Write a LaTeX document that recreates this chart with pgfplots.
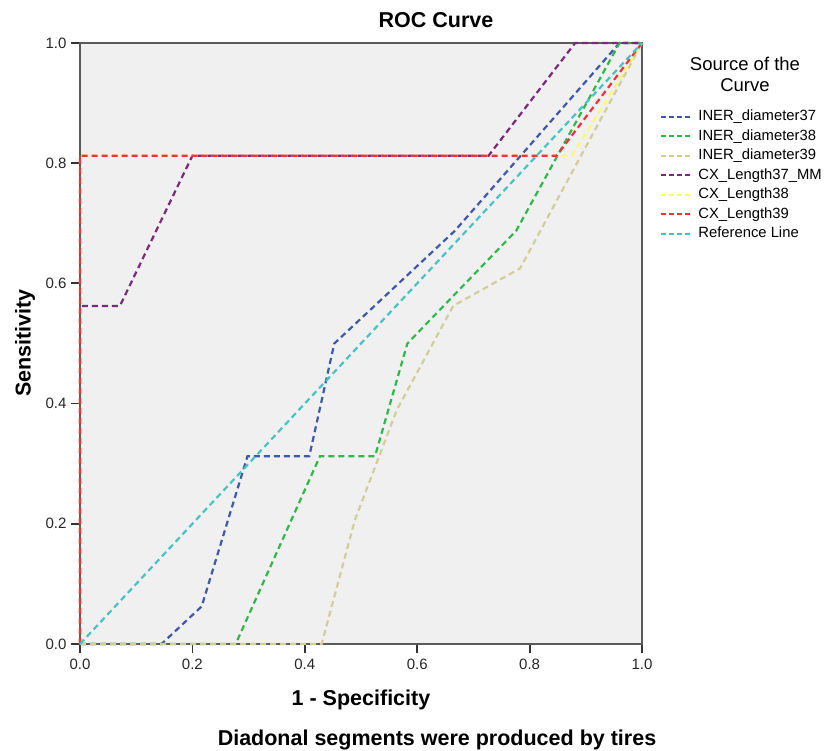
\documentclass[border=0pt]{standalone}
\usepackage{fontspec}
\setmainfont{Liberation Sans}
\usepackage{pgfplots}
\pgfplotsset{compat=1.18}

\definecolor{cblue}{HTML}{3E58AC}
\definecolor{cgreen}{HTML}{2EB848}
\definecolor{ckhaki}{HTML}{D3CE97}
\definecolor{cpurple}{HTML}{7C287D}
\definecolor{cyellow}{HTML}{FBF873}
\definecolor{cred}{HTML}{EF3338}
\definecolor{ccyan}{HTML}{48C2C5}
\definecolor{bgc}{HTML}{F0F0F0}
\definecolor{axc}{HTML}{5A5A5A}

\begin{document}
\begin{tikzpicture}[x=1pt,y=1pt]
\begin{axis}[
    at={(0,0)}, anchor=south west,
    scale only axis, width=562pt, height=601pt,
    xmin=0, xmax=1, ymin=0, ymax=1,
    clip=false,
    axis background/.style={fill=bgc},
    axis line style={draw=axc, line width=2.8pt},
    xtick={0,0.2,0.4,0.6,0.8,1}, ytick={0,0.2,0.4,0.6,0.8,1},
    tick pos=left, tick align=outside,
    major tick length=9pt,
    tick style={draw=black!80, line width=1.8pt},
    ticklabel style={font=\fontsize{15}{18}\selectfont, text=black!85},
    xticklabel style={yshift=-2pt},
    yticklabel style={xshift=-1pt},
    /pgf/number format/.cd, fixed, fixed zerofill, precision=1, assume math mode=true,
    /pgfplots/.cd,
    legend cell align=left,
    legend image code/.code={\draw[#1, dash pattern=on 5pt off 3pt] (0pt,0pt) -- (30pt,0pt);},
    legend style={draw=none, fill=none, inner sep=0pt,
        at={(axis description cs:1.032,0.890)}, anchor=north west,
        font=\fontsize{14.8}{18}\selectfont, row sep=4.5pt,
        nodes={inner sep=0pt, text height=11.5pt, text depth=3.5pt},
        /tikz/every odd column/.append style={column sep=6pt}},
    every axis plot/.append style={line width=2.2pt, dash pattern=on 6pt off 4pt},
]
\addplot[cblue] coordinates {(0,0) (0.145,0) (0.2165,0.0625) (0.298,0.3125) (0.408,0.3125) (0.4525,0.5) (0.667,0.6875) (0.96,1) (1,1)};
\addlegendentry{INER\_diameter37}
\addplot[cgreen] coordinates {(0,0) (0.277,0) (0.427,0.3125) (0.525,0.3125) (0.5825,0.5) (0.776,0.6875) (0.96,1) (1,1)};
\addlegendentry{INER\_diameter38}
\addplot[ckhaki] coordinates {(0,0) (0.43,0) (0.489,0.206) (0.5635,0.389) (0.664,0.5625) (0.783,0.625) (1,1)};
\addlegendentry{INER\_diameter39}
\addplot[cpurple] coordinates {(0,0) (0,0.5625) (0.071,0.5625) (0.2,0.8125) (0.727,0.8125) (0.881,1) (1,1)};
\addlegendentry{CX\_Length37\_MM}
\addplot[cyellow] coordinates {(0,0) (0,0.8125) (0.875,0.8125) (1,1)};
\addlegendentry{CX\_Length38}
\addplot[cred] coordinates {(0,0) (0,0.8125) (0.848,0.8125) (1,1)};
\addlegendentry{CX\_Length39}
\addplot[ccyan] coordinates {(0,0) (1,1)};
\addlegendentry{Reference Line}
\end{axis}
\node[font=\bfseries\fontsize{21.5}{24}\selectfont] at (356,624) {ROC Curve};
\node[font=\bfseries\fontsize{21.5}{24}\selectfont, rotate=90] at (-55,301) {Sensitivity};
\node[font=\bfseries\fontsize{21.5}{24}\selectfont] at (281,-56) {1 - Specificity};
\node[font=\bfseries\fontsize{21.5}{24}\selectfont] at (357,-96) {Diadonal segments were produced by tires};
\node[font=\fontsize{18.5}{21}\selectfont, align=center] at (665,570) {Source of the\\Curve};
\pgfresetboundingbox
\path (-80,-107) rectangle (747,644);
\end{tikzpicture}
\end{document}
